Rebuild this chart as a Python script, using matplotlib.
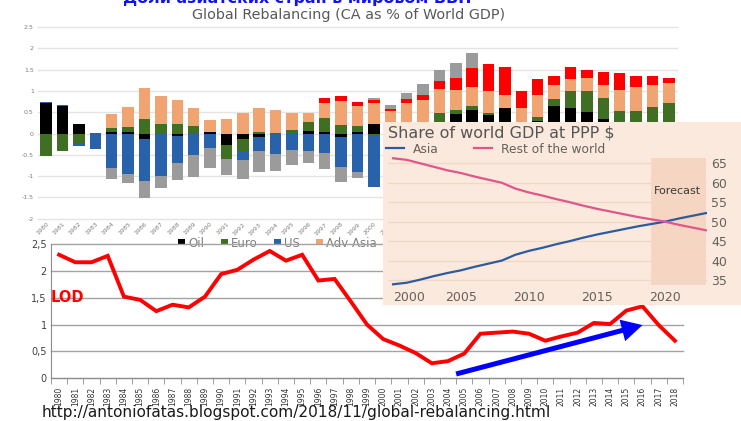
import matplotlib
matplotlib.use('Agg')
import matplotlib.pyplot as plt
import numpy as np
from matplotlib.ticker import FuncFormatter

W, H = 741, 421

# ---- top chart: Global Rebalancing (CA as % of World GDP) ----
years = list(range(1980, 2019))
oil = [0.71, 0.65, 0.23, 0.0, 0.04, 0.04, -0.12, 0.0, -0.05, 0.0,
       0.04, -0.26, -0.14, -0.09, -0.02, 0.0, 0.06, 0.04, -0.09, 0.04,
       0.23, 0.05, 0.0, 0.0, 0.0, 0.45, 0.55, 0.43, 0.59, 0.0,
       0.29, 0.64, 0.61, 0.51, 0.33, 0.0, 0.0, 0.0, 0.0]
euro = [-0.52, -0.40, -0.25, 0.02, 0.08, 0.12, 0.34, 0.23, 0.22, 0.17,
        0.0, -0.34, -0.27, 0.04, 0.02, 0.09, 0.20, 0.33, 0.20, 0.13,
        -0.05, 0.05, 0.27, 0.27, 0.49, 0.11, 0.09, 0.05, 0.0, 0.0,
        0.10, 0.16, 0.39, 0.49, 0.51, 0.53, 0.53, 0.63, 0.71]
us = [0.02, 0.02, -0.04, -0.37, -0.80, -0.96, -1.00, -0.99, -0.65, -0.51,
      -0.35, 0.0, -0.22, -0.33, -0.45, -0.39, -0.41, -0.45, -0.70, -0.90,
      -1.21, -1.15, -1.35, -1.45, -1.60, -1.75, -1.80, -1.55, -1.35, -0.80,
      -0.95, -0.95, -0.90, -0.70, -0.70, -0.75, -0.75, -0.70, -0.80]
adv_asia = [0.0, 0.0, 0.0, 0.0, 0.33, 0.46, 0.72, 0.66, 0.56, 0.42,
            0.27, 0.34, 0.49, 0.57, 0.52, 0.39, 0.22, 0.34, 0.56, 0.48,
            0.48, 0.42, 0.44, 0.51, 0.56, 0.47, 0.45, 0.52, 0.31, 0.59,
            0.52, 0.34, 0.27, 0.30, 0.30, 0.49, 0.55, 0.52, 0.48]
china = [0.0] * 17 + [0.12, 0.12, 0.08,
         0.07, 0.05, 0.09, 0.12, 0.18, 0.28, 0.45, 0.62, 0.66, 0.41,
         0.37, 0.20, 0.29, 0.20, 0.31, 0.41, 0.27, 0.20, 0.12]
other = [0.0, 0.0, 0.0, 0.0, -0.26, -0.20, -0.40, -0.30, -0.40, -0.52,
         -0.45, -0.38, -0.43, -0.48, -0.42, -0.35, -0.28, -0.39, -0.34, -0.14,
         0.06, 0.11, 0.14, 0.27, 0.25, 0.35, 0.36, -0.30, -0.30, -0.20,
         -0.20, -0.30, -0.30, -0.30, -0.30, -0.30, -0.30, -0.30, -0.30]
series_names = ['Oil', 'Euro', 'US', 'Adv Asia', 'China', 'Other']
series_colors = ['#000000', '#3e6f23', '#2762ab', '#f0a472', '#ff0000', '#9b9b9b']

# ---- bottom chart: LOD ----
lod = [2.30, 2.16, 2.16, 2.28, 1.52, 1.46, 1.25, 1.37, 1.32, 1.52,
       1.94, 2.02, 2.21, 2.37, 2.19, 2.30, 1.82, 1.85, 1.43, 1.00,
       0.73, 0.61, 0.47, 0.28, 0.32, 0.46, 0.83, 0.85, 0.87, 0.83,
       0.70, 0.78, 0.85, 1.03, 1.01, 1.26, 1.34, 0.99, 0.70]
arrow_from = (2004.5, 0.08)
arrow_to = (2016.0, 0.99)

# ---- inset: Share of world GDP at PPP $ ----
gdp_years = list(range(2000, 2024))
asia_share = [33.9, 34.3, 35.1, 36.0, 36.8, 37.5, 38.4, 39.2, 40.0, 41.5,
              42.5, 43.3, 44.2, 45.0, 45.9, 46.7, 47.4, 48.1, 48.8, 49.4,
              50.0, 50.8, 51.5, 52.2]
rest_share = [66.3, 65.9, 65.0, 64.1, 63.2, 62.5, 61.6, 60.8, 60.0, 58.5,
              57.5, 56.7, 55.8, 55.0, 54.1, 53.3, 52.6, 51.9, 51.2, 50.6,
              50.0, 49.2, 48.5, 47.8]
forecast_from, forecast_to = 2019, 2023


def px_box(x0, y0, x1, y1):
    return [x0 / W, 1 - y1 / H, (x1 - x0) / W, (y1 - y0) / H]


fig = plt.figure(figsize=(W / 100, H / 100), dpi=100)
fig.patch.set_facecolor('white')

# titles (the big one is cut by the top edge, as in the source slide)
fig.text(297 / W, 1 - 3.5 / H, 'Доли азиатских стран в мировом ВВП', ha='center',
         va='baseline', fontsize=11.4, fontweight='bold', color='#1010ff')
fig.text(349 / W, 1 - 15 / H, 'Global Rebalancing (CA as % of World GDP)', ha='center',
         va='center', fontsize=10.4, color='#595959')

# stacked bars
ax1 = fig.add_axes(px_box(38, 27, 677, 218.7))
x = np.arange(len(years))
pos_base = np.zeros(len(years))
neg_base = np.zeros(len(years))
for name, vals, col in zip(series_names, [oil, euro, us, adv_asia, china, other], series_colors):
    v = np.array(vals)
    p = np.where(v > 0, v, 0)
    n = np.where(v < 0, v, 0)
    ax1.bar(x, p, 0.7, bottom=pos_base, color=col, label=name, zorder=2)
    ax1.bar(x, n, 0.7, bottom=neg_base, color=col, zorder=2)
    pos_base += p
    neg_base += n
ax1.set_xlim(-0.5, len(years) - 0.5)
ax1.set_ylim(-2, 2.5)
ax1.set_yticks(np.arange(-2, 2.51, 0.5))
ax1.yaxis.set_major_formatter(FuncFormatter(lambda v, p: '%g' % v))
ax1.grid(axis='y', color='#e4e4e4', lw=1.0, zorder=0)
for gl in ax1.get_ygridlines():
    gl.set_clip_on(False)
ax1.set_xticks(x)
ax1.set_xticklabels([str(y) for y in years], rotation=45, ha='right',
                    rotation_mode='anchor', fontsize=4, color='#8c8c8c')
ax1.tick_params(axis='both', length=0, labelsize=4.5, labelcolor='#7f7f7f', pad=3)
ax1.tick_params(axis='x', pad=2)
for s in ax1.spines.values():
    s.set_visible(False)
ax1.set_facecolor('none')
ax1.legend(ncol=6, loc='center left', bbox_to_anchor=(178 / W, 1 - 243 / H),
           bbox_transform=fig.transFigure, frameon=False, fontsize=8.5,
           labelcolor='#7f7f7f', handlelength=0.6, handleheight=0.35,
           handletextpad=0.25, columnspacing=1.4, borderpad=0, borderaxespad=0)

# LOD line chart
ax2 = fig.add_axes(px_box(51, 244, 683, 378.3))
ax2.set_facecolor('none')
x2 = np.arange(len(years))
ax2.plot(x2, lod, color='#ff0000', lw=2.8, solid_joinstyle='miter', zorder=3)
ax2.set_xlim(-0.5, len(years) - 0.5)
ax2.set_ylim(0, 2.5)
ax2.set_yticks(np.arange(0, 2.51, 0.5))
ax2.yaxis.set_major_formatter(FuncFormatter(lambda v, p: ('%g' % v).replace('.', ',')))
ax2.grid(axis='y', color='#a3a3a3', lw=1.0, zorder=1)
for gl in ax2.get_ygridlines():
    gl.set_clip_on(False)
ax2.set_xticks(x2)
ax2.set_xticklabels([str(y) for y in years], rotation=90, fontsize=5.5, color='#333333')
ax2.set_xticks(np.arange(-0.5, len(years), 1), minor=True)
ax2.tick_params(axis='x', which='major', length=0, pad=6)
ax2.tick_params(axis='x', which='minor', length=4, color='#8c8c8c')
ax2.tick_params(axis='y', length=0, labelsize=7, labelcolor='#404040', pad=3)
for side in ['top', 'right']:
    ax2.spines[side].set_visible(False)
for side in ['left', 'bottom']:
    ax2.spines[side].set_color('#8c8c8c')
ax2.text(0.0, 1.5, 'LOD', transform=ax2.get_yaxis_transform(), ha='left', va='center',
         fontsize=10.5, fontweight='bold', color='#ff0000')
ax2.annotate('', xy=(arrow_to[0] - years[0], arrow_to[1]),
             xytext=(arrow_from[0] - years[0], arrow_from[1]),
             arrowprops=dict(arrowstyle='simple,head_length=1.5,head_width=1.6,tail_width=0.36',
                             mutation_scale=10, color='#0000ff', lw=0, shrinkA=0, shrinkB=0),
             annotation_clip=False, zorder=4)

# inset panel
ax_bg = fig.add_axes(px_box(383, 122, 741, 305))
ax_bg.set_facecolor('#fae9dc')
ax_bg.set_xticks([])
ax_bg.set_yticks([])
for s in ax_bg.spines.values():
    s.set_visible(False)
ax_bg.text(388 / W, 1 - 133 / H, 'Share of world GDP at PPP $', transform=fig.transFigure,
           ha='left', va='center', fontsize=11.5, color='#555555')

ax3 = fig.add_axes(px_box(387.6, 153.6, 707.2, 287.8))
ax3.set_facecolor('none')
ax3.fill_between([forecast_from, forecast_to], 33.7, 66.4, color='#f6d6c2', lw=0, zorder=1)
ax3.plot(gdp_years, asia_share, color='#2d5c9e', lw=1.6, label='Asia', zorder=3)
ax3.plot(gdp_years, rest_share, color='#e0568a', lw=1.6, label='Rest of the world', zorder=3)
ax3.text(2020.9, 57.9, 'Forecast', ha='center', va='center', fontsize=8, color='#3a3a3a')
ax3.set_xlim(1999.6, 2023.1)
ax3.set_ylim(33, 67.5)
ax3.set_yticks(range(35, 66, 5))
ax3.yaxis.tick_right()
ax3.grid(axis='y', color='#efd8c8', lw=0.9, zorder=0)
ax3.set_xticks(range(2000, 2021, 5))
ax3.tick_params(axis='both', length=0, labelsize=9, labelcolor='#66605c')
ax3.tick_params(axis='y', pad=3)
ax3.tick_params(axis='x', pad=2)
ax3.get_xticklabels()[0].set_horizontalalignment('left')
for s in ax3.spines.values():
    s.set_visible(False)
ax3.legend(ncol=2, loc='center left', bbox_to_anchor=(386 / W, 1 - 149 / H),
           bbox_transform=fig.transFigure, frameon=False, fontsize=8.8,
           labelcolor='#66605c', handlelength=1.5, handletextpad=0.7,
           columnspacing=2.9, borderpad=0, borderaxespad=0)

fig.text(42 / W, 1 - 413 / H, 'http://antoniofatas.blogspot.com/2018/11/global-rebalancing.html',
         ha='left', va='center', fontsize=11.1, color='#1a1a1a')

fig.savefig('out.png', dpi=100)
